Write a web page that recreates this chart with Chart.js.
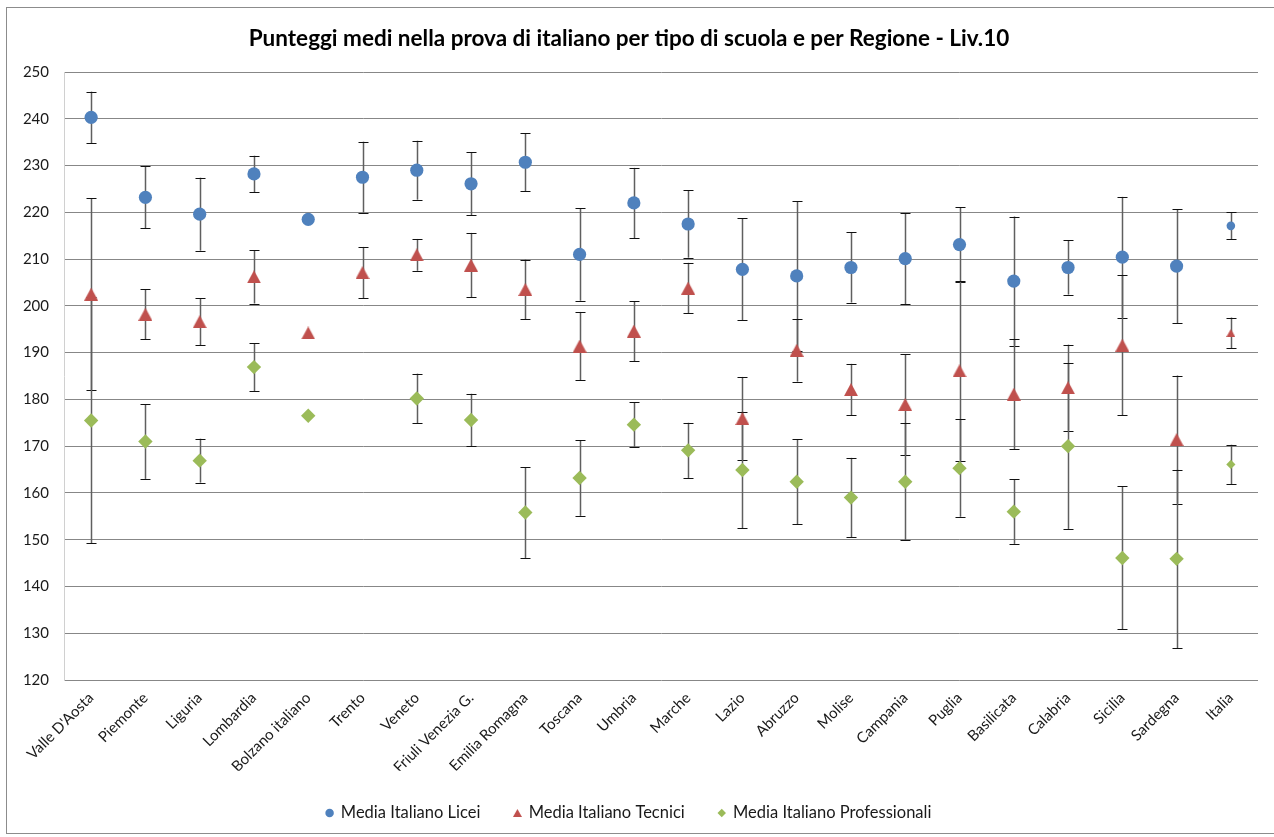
<!DOCTYPE html>
<html lang="it">
<head>
<meta charset="utf-8">
<title>Punteggi medi nella prova di italiano - Liv.10</title>
<script src="https://cdn.jsdelivr.net/npm/chart.js@4.4.1/dist/chart.umd.min.js"></script>
<style>
  html, body { margin: 0; padding: 0; background: #ffffff; }
  #wrap { position: relative; width: 1274px; height: 837px; }
</style>
</head>
<body>
<div id="wrap"><canvas id="chart" width="1274" height="837"></canvas></div>
<script>
// Regioni (asse delle categorie)
const regions = ["Valle D'Aosta", "Piemonte", "Liguria", "Lombardia", "Bolzano italiano", "Trento", "Veneto",
  "Friuli Venezia G.", "Emilia Romagna", "Toscana", "Umbria", "Marche", "Lazio", "Abruzzo", "Molise",
  "Campania", "Puglia", "Basilicata", "Calabria", "Sicilia", "Sardegna", "Italia"];

// Punteggi medi per tipo di scuola
const mediaLicei = [240.3, 223.2, 219.6, 228.2, 218.5, 227.5, 229.0, 226.1, 230.7, 211.0, 222.0,
  217.5, 207.8, 206.4, 208.2, 210.1, 213.1, 205.3, 208.2, 210.4, 208.5, 217.1];
const mediaTecnici = [202.5, 198.2, 196.6, 206.2, 194.2, 207.1, 210.9, 208.7, 203.5, 191.4, 194.6,
  203.8, 175.9, 190.5, 182.1, 178.9, 186.1, 181.1, 182.5, 191.6, 171.4, 194.2];
const mediaProfessionali = [175.5, 171.0, 166.9, 186.9, 176.5, null, 180.2, 175.6, 155.8, 163.2, 174.6,
  169.1, 164.9, 162.4, 159.0, 162.4, 165.3, 156.0, 170.0, 146.1, 145.9, 166.1];

// Semi-ampiezza delle barre di errore (0 = nessuna barra)
const errLicei = [5.5, 6.6, 7.8, 3.9, 0, 7.6, 6.3, 6.7, 6.2, 9.9, 7.5,
  7.2, 10.9, 16.0, 7.5, 9.7, 8.0, 13.8, 5.8, 12.9, 12.2, 2.9];
const errTecnici = [20.5, 5.3, 5.0, 5.7, 0, 5.5, 3.4, 6.9, 6.4, 7.3, 6.4,
  5.4, 8.9, 6.7, 5.5, 10.8, 19.2, 11.8, 9.2, 15.0, 13.7, 3.3];
const errProfessionali = [26.3, 8.0, 4.7, 5.1, 0, 0, 5.3, 5.6, 9.7, 8.1, 4.8,
  5.9, 12.5, 9.1, 8.5, 12.5, 10.4, 6.9, 17.7, 15.3, 19.1, 4.2];

// Etichette dell'asse dei valori
const yTicks = [120, 130, 140, 150, 160, 170, 180, 190, 200, 210, 220, 230, 240, 250];

const BLUE = '#4F81BD', RED = '#C0504D', GREEN = '#9BBB59';
const FONT = "Lato, 'Open Sans', 'DejaVu Sans', sans-serif";
const lastIdx = regions.length - 1;

// Triangolo con il riquadro centrato sul punto
function triangleImage(w, h, color) {
  const c = document.createElement('canvas');
  c.width = w; c.height = h;
  const g = c.getContext('2d');
  g.fillStyle = color;
  g.beginPath();
  g.moveTo(w / 2, 0);
  g.lineTo(w, h);
  g.lineTo(0, h);
  g.closePath();
  g.fill();
  return c;
}
const triBig = triangleImage(14, 13, RED);
const triSmall = triangleImage(9, 8, RED);

// Barre di errore disegnate sotto i marcatori, con le scale del grafico
const errorBars = {
  id: 'errorBars',
  beforeDatasetsDraw(chart) {
    const { ctx } = chart;
    const xs = chart.scales.x, ys = chart.scales.y;
    chart.data.datasets.forEach((ds, di) => {
      if (!chart.isDatasetVisible(di)) return;
      ds.data.forEach((v, i) => {
        const e = ds.errors[i];
        if (v === null || !e) return;
        const x = Math.round(xs.getPixelForValue(i)) + 0.5;
        const yT = ys.getPixelForValue(v + e);
        const yB = ys.getPixelForValue(v - e);
        ctx.save();
        ctx.strokeStyle = '#5f5f5f';
        ctx.lineWidth = 1.5;
        ctx.beginPath();
        ctx.moveTo(x, yT);
        ctx.lineTo(x, yB);
        ctx.stroke();
        ctx.strokeStyle = '#111111';
        ctx.lineWidth = 1;
        ctx.beginPath();
        ctx.moveTo(x - 5, Math.round(yT) + 0.5);
        ctx.lineTo(x + 5, Math.round(yT) + 0.5);
        ctx.moveTo(x - 5, Math.round(yB) + 0.5);
        ctx.lineTo(x + 5, Math.round(yB) + 0.5);
        ctx.stroke();
        ctx.restore();
      });
    });
  }
};

// Cornice esterna dell'area del grafico
const frame = {
  id: 'frame',
  afterDraw(chart) {
    const { ctx } = chart;
    ctx.save();
    ctx.strokeStyle = '#8c8c8c';
    ctx.lineWidth = 1;
    ctx.strokeRect(6.5, 7.5, 1290, 826);
    ctx.restore();
  }
};

new Chart(document.getElementById('chart'), {
  type: 'line',
  data: {
    labels: regions,
    datasets: [
      {
        label: 'Media Italiano Licei',
        data: mediaLicei,
        errors: errLicei,
        showLine: false,
        pointStyle: 'circle',
        pointRadius: ctx => ctx.dataIndex === lastIdx ? 4.3 : 6.6,
        pointHoverRadius: ctx => ctx.dataIndex === lastIdx ? 4.3 : 6.6,
        backgroundColor: BLUE,
        borderColor: BLUE,
        pointBorderWidth: 0
      },
      {
        label: 'Media Italiano Tecnici',
        data: mediaTecnici,
        errors: errTecnici,
        showLine: false,
        pointStyle: ctx => ctx.dataIndex === lastIdx ? triSmall : triBig,
        pointRadius: 7,
        backgroundColor: RED,
        borderColor: RED,
        pointBorderWidth: 0
      },
      {
        label: 'Media Italiano Professionali',
        data: mediaProfessionali,
        errors: errProfessionali,
        showLine: false,
        pointStyle: 'rectRot',
        pointRadius: ctx => ctx.dataIndex === lastIdx ? 4.6 : 7.2,
        pointHoverRadius: ctx => ctx.dataIndex === lastIdx ? 4.6 : 7.2,
        backgroundColor: GREEN,
        borderColor: GREEN,
        pointBorderWidth: 0
      }
    ]
  },
  options: {
    responsive: false,
    animation: false,
    events: [],
    layout: { padding: { left: 0, right: 16, top: 0, bottom: 5.75 } },
    scales: {
      x: {
        type: 'category',
        offset: true,
        grid: { display: false, drawTicks: false },
        border: { display: false },
        ticks: {
          autoSkip: false,
          minRotation: 45,
          maxRotation: 45,
          padding: 9,
          color: '#1a1a1a',
          font: { family: FONT, size: 15 }
        },
        afterFit(scale) { scale.height = 90.75; }
      },
      y: {
        min: yTicks[0],
        max: yTicks[yTicks.length - 1],
        afterBuildTicks(scale) { scale.ticks = yTicks.map(v => ({ value: v })); },
        grid: { color: '#878787', lineWidth: 1, drawTicks: false },
        border: { display: true, color: '#d0d0d0', width: 1 },
        ticks: {
          padding: 15,
          color: '#1a1a1a',
          font: { family: FONT, size: 15 }
        },
        afterFit(scale) { scale.width = 64; }
      }
    },
    plugins: {
      title: {
        display: true,
        text: 'Punteggi medi nella prova di italiano per tipo di scuola e per Regione - Liv.10',
        color: '#000000',
        font: { family: FONT, size: 22.5, weight: 'bold' },
        padding: { top: 25, bottom: 20 }
      },
      legend: {
        position: 'bottom',
        labels: {
          usePointStyle: true,
          boxWidth: 6,
          boxHeight: 6,
          padding: 34,
          color: '#1a1a1a',
          font: { family: FONT, size: 16.5 },
          generateLabels(chart) {
            const items = Chart.defaults.plugins.legend.labels.generateLabels(chart);
            const styles = ['circle', triSmall, 'rectRot'];
            items.forEach((it, i) => { it.pointStyle = styles[i]; it.lineWidth = 0; });
            return items;
          }
        }
      },
      tooltip: { enabled: false }
    }
  },
  plugins: [errorBars, frame]
});
</script>
</body>
</html>
